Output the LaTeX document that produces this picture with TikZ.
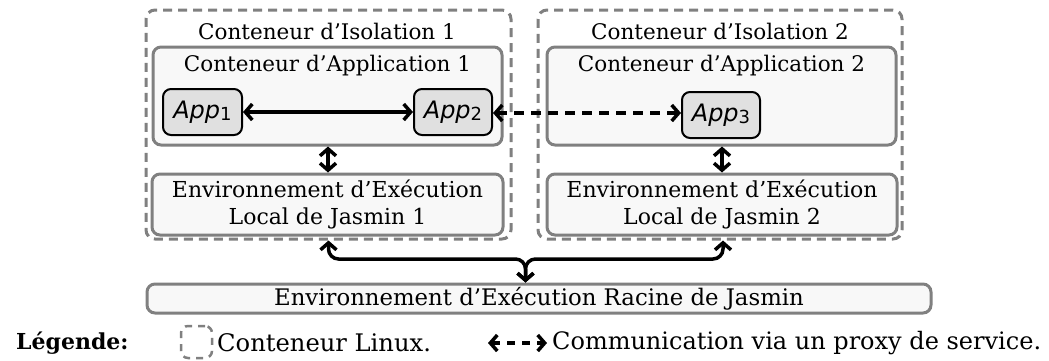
\documentclass[tikz,border=0pt]{standalone}
\usepackage{fontspec}
\setmainfont{DejaVu Serif}
\newfontfamily\appfont{DejaVu Sans}
\usetikzlibrary{arrows.meta}
\definecolor{bordergray}{RGB}{128,128,128}
\definecolor{contfill}{RGB}{248,248,248}
\definecolor{appfill}{RGB}{224,224,224}
\tikzset{
  iso/.style={draw=bordergray, dash pattern=on 9pt off 6pt, line width=3pt, rounded corners=9pt},
  cont/.style={draw=bordergray, fill=contfill, line width=3pt, rounded corners=8pt, inner sep=0pt},
  appbox/.style={draw=black, fill=appfill, line width=2pt, rounded corners=8pt, inner sep=0pt},
  lbl/.style={inner sep=0pt, font=\fontsize{21.5}{26}\selectfont},
  tip/.tip={Straight Barb[length=7pt,width=16pt,line width=3.5pt]},
  conn/.style={line width=3.5pt, tip-tip},
}
\newcommand{\appsub}[1]{{\appfont\itshape\fontsize{24}{26}\selectfont App}\raisebox{-0.2em}{\appfont\upshape\fontsize{18}{20}\selectfont #1}}
\begin{document}
\begin{tikzpicture}[x=1pt,y=-1pt]
\useasboundingbox (0,0) rectangle (1049,360);
% isolation containers
\node[iso, minimum width=365pt, minimum height=229pt] (iso1) at (328.5,124.5) {};
\node[iso, minimum width=364pt, minimum height=229pt] (iso2) at (720,124.5) {};
\node[lbl] (isot1) at (327,31) {Conteneur d’Isolation 1};
\node[lbl] (isot2) at (720,31) {Conteneur d’Isolation 2};
% application containers
\node[cont, minimum width=349pt, minimum height=98pt] (ac1) at (327.5,96) {};
\node[cont, minimum width=349pt, minimum height=98pt] (ac2) at (721.5,96) {};
\node[lbl] (act1) at (327.5,66) {Conteneur d’Application 1};
\node[lbl] (act2) at (721.5,66) {Conteneur d’Application 2};
% local envs
\node[cont, minimum width=351pt, minimum height=61pt, align=center, font=\fontsize{22}{27}\selectfont] (env1) at (327.5,204.5) {Environnement d’Exécution\\Local de Jasmin 1};
\node[cont, minimum width=350pt, minimum height=61pt, align=center, font=\fontsize{22}{27}\selectfont] (env2) at (722,204.5) {Environnement d’Exécution\\Local de Jasmin 2};
% apps
\node[appbox, minimum width=79pt, minimum height=46pt] (app1) at (202.5,112) {\appsub{1}};
\node[appbox, minimum width=78pt, minimum height=46pt] (app2) at (453,112) {\appsub{2}};
\node[appbox, minimum width=78pt, minimum height=46pt] (app3) at (721,115) {\appsub{3}};
% root
\node[cont, minimum width=784pt, minimum height=29pt, font=\fontsize{22.8}{26}\selectfont] (root) at (539,298.5) {Environnement d’Exécution Racine de Jasmin};
% connectors
\draw[conn] (app1) -- (app2);
\draw[conn, dash pattern=on 10pt off 7pt] (app2.east) ++(0,1) -- (app3.west |- 0,113);
\draw[conn] (ac1.south -| 328,0) -- (env1.north -| 328,0);
\draw[conn] (ac2.south -| 722,0) -- (env2.north -| 722,0);
\coordinate (busmid) at (525.5,259);
\draw[conn, rounded corners=10pt] (iso1.south) |- (busmid) -- (root.north -| busmid);
\draw[conn, rounded corners=10pt] (iso2.south -| 723,0) |- (busmid) -- (root.north -| busmid);
% legend
\node[inner sep=0pt, anchor=west, font=\fontsize{22}{26}\selectfont\bfseries] (leg) at (16,343) {Légende:};
\node[iso, line width=2.5pt, dash pattern=on 7pt off 6pt, rounded corners=7pt, minimum width=31pt, minimum height=32pt] (legbox) at (196.5,342) {};
\node[inner sep=0pt, anchor=west, font=\fontsize{24.2}{28}\selectfont] (legt1) at (217,343) {Conteneur Linux.};
\coordinate (la) at (488,343);
\coordinate (lb) at (547,343);
\draw[conn, dash pattern=on 8pt off 7pt] (la) -- (lb);
\node[inner sep=0pt, anchor=west, font=\fontsize{24}{28}\selectfont] (legt2) at (552,343) {Communication via un proxy de service.};
\end{tikzpicture}
\end{document}
